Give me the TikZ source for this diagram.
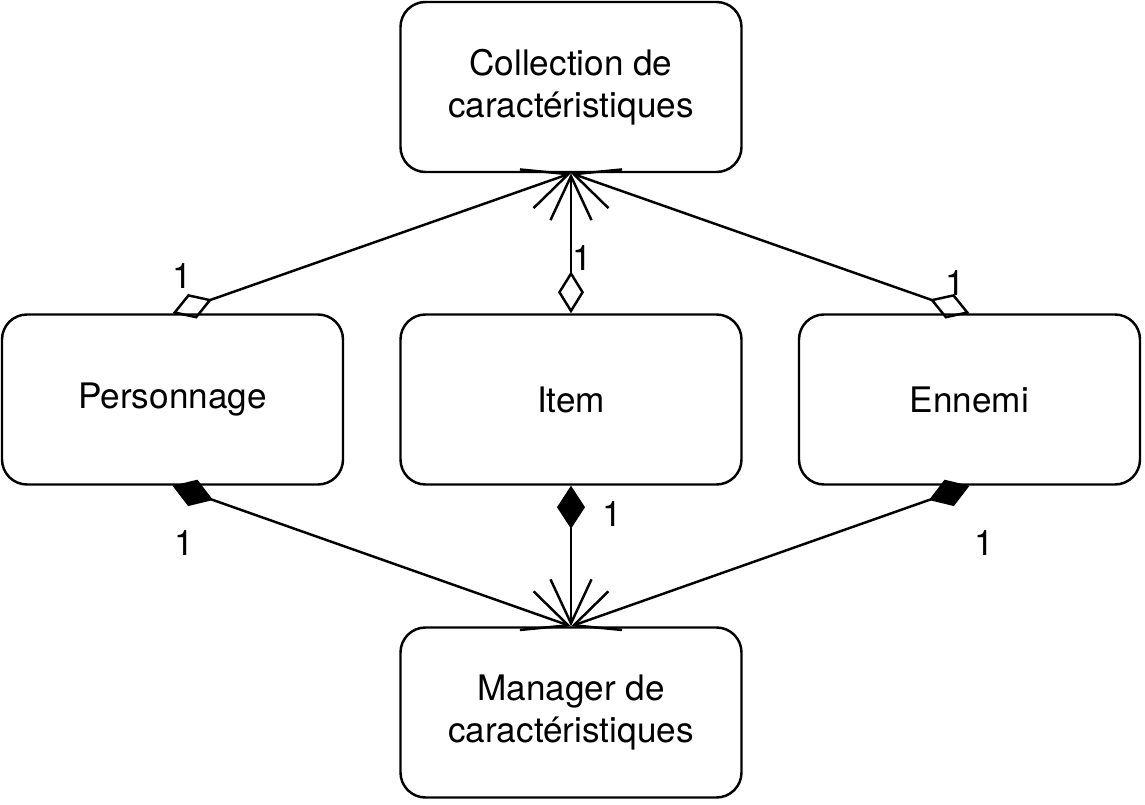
\documentclass[tikz,border=0pt]{standalone}
\usepackage{fontspec}
\setmainfont{TeX Gyre Heros}
\usetikzlibrary{arrows.meta}

\begin{document}
\begin{tikzpicture}[line width=0.7pt,
    box/.style={draw, rounded corners=0.25cm, minimum width=3.41cm, minimum height=1.70cm, align=center, font=\fontsize{10}{12}\selectfont},
    mult/.style={font=\fontsize{10}{12}\selectfont, inner sep=0pt},
    agg/.style={{Diamond[open,length=4.2mm,width=2.6mm]}-{Straight Barb[length=4.4mm,width=4.1mm]}},
    comp/.style={{Diamond[length=4.3mm,width=2.8mm]}-{Straight Barb[length=4.4mm,width=4.1mm]}}]
        \useasboundingbox (0,0) rectangle (11.45,8.05);
        \node [box] (coll) at (5.71,7.18) {Collection de\\caractéristiques};
        \node [box] (perso) at (1.725,4.055) {Personnage};
        \node [box] (item) at (5.71,4.055) {Item};
        \node [box] (ennemi) at (9.695,4.055) {Ennemi};
        \node [box] (manager) at (5.71,0.925) {Manager de\\caractéristiques};
        \path [draw] (perso.north) edge [agg] (coll.south);
        \path [draw] (item.north) edge [agg] (coll.south);
        \path [draw] (ennemi.north) edge [agg] (coll.south);
        \path [draw] (perso.south) edge [comp] (manager.north);
        \path [draw] (item.south) edge [comp] (manager.north);
        \path [draw] (ennemi.south) edge [comp] (manager.north);
        \node [mult] (m1) at (1.82,5.29) {1};
        \node [mult] (m2) at (5.82,5.47) {1};
        \node [mult] (m3) at (9.55,5.22) {1};
        \node [mult] (m4) at (1.84,2.62) {1};
        \node [mult] (m5) at (6.12,2.91) {1};
        \node [mult] (m6) at (9.84,2.62) {1};
    \end{tikzpicture}
\end{document}
